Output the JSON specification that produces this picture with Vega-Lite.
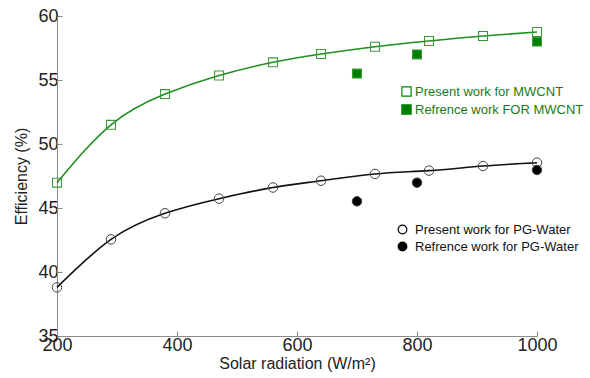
{
  "$schema": "https://vega.github.io/schema/vega-lite/v6.json",
  "width": 480,
  "height": 320,
  "autosize": {"type": "none"},
  "padding": {"left": 57, "top": 16, "right": 53, "bottom": 42},
  "background": "white",
  "config": {
    "view": {"stroke": null},
    "font": "Liberation Sans",
    "axis": {
      "grid": false,
      "domainColor": "#8a8a8a",
      "tickColor": "#8a8a8a",
      "tickSize": -5,
      "labelFontSize": 18,
      "labelColor": "#222",
      "titleFontSize": 16,
      "titleFontWeight": "normal",
      "titleColor": "#222"
    },
    "legend": {"labelFontSize": 13, "labelFont": "Liberation Sans", "labelLimit": 300}
  },
  "data": {
    "values": [
      {"group": "MWCNT", "kind": "present", "series": "Present work for MWCNT", "x": 200, "y": 46.98},
      {"group": "MWCNT", "kind": "present", "series": "Present work for MWCNT", "x": 290, "y": 51.5},
      {"group": "MWCNT", "kind": "present", "series": "Present work for MWCNT", "x": 380, "y": 53.9},
      {"group": "MWCNT", "kind": "present", "series": "Present work for MWCNT", "x": 470, "y": 55.35},
      {"group": "MWCNT", "kind": "present", "series": "Present work for MWCNT", "x": 560, "y": 56.38},
      {"group": "MWCNT", "kind": "present", "series": "Present work for MWCNT", "x": 640, "y": 57.03},
      {"group": "MWCNT", "kind": "present", "series": "Present work for MWCNT", "x": 730, "y": 57.6},
      {"group": "MWCNT", "kind": "present", "series": "Present work for MWCNT", "x": 820, "y": 58.05},
      {"group": "MWCNT", "kind": "present", "series": "Present work for MWCNT", "x": 910, "y": 58.44},
      {"group": "MWCNT", "kind": "present", "series": "Present work for MWCNT", "x": 1000, "y": 58.75},
      {"group": "MWCNT", "kind": "reference", "series": "Refrence work FOR MWCNT", "x": 700, "y": 55.5},
      {"group": "MWCNT", "kind": "reference", "series": "Refrence work FOR MWCNT", "x": 800, "y": 57.0},
      {"group": "MWCNT", "kind": "reference", "series": "Refrence work FOR MWCNT", "x": 1000, "y": 58.0},
      {"group": "PG", "kind": "present", "series": "Present work for PG-Water", "x": 200, "y": 38.8},
      {"group": "PG", "kind": "present", "series": "Present work for PG-Water", "x": 290, "y": 42.55},
      {"group": "PG", "kind": "present", "series": "Present work for PG-Water", "x": 380, "y": 44.59},
      {"group": "PG", "kind": "present", "series": "Present work for PG-Water", "x": 470, "y": 45.73},
      {"group": "PG", "kind": "present", "series": "Present work for PG-Water", "x": 560, "y": 46.6},
      {"group": "PG", "kind": "present", "series": "Present work for PG-Water", "x": 640, "y": 47.13},
      {"group": "PG", "kind": "present", "series": "Present work for PG-Water", "x": 730, "y": 47.66},
      {"group": "PG", "kind": "present", "series": "Present work for PG-Water", "x": 820, "y": 47.92},
      {"group": "PG", "kind": "present", "series": "Present work for PG-Water", "x": 910, "y": 48.28},
      {"group": "PG", "kind": "present", "series": "Present work for PG-Water", "x": 1000, "y": 48.54},
      {"group": "PG", "kind": "reference", "series": "Refrence work for PG-Water", "x": 700, "y": 45.52},
      {"group": "PG", "kind": "reference", "series": "Refrence work for PG-Water", "x": 800, "y": 46.98},
      {"group": "PG", "kind": "reference", "series": "Refrence work for PG-Water", "x": 1000, "y": 47.97}
    ]
  },
  "encoding": {
    "x": {
      "field": "x", "type": "quantitative",
      "scale": {"domain": [200, 1000], "nice": false, "zero": false},
      "axis": {"values": [200, 400, 600, 800, 1000], "format": "d", "title": "Solar radiation (W/m²)", "labelPadding": 5, "titlePadding": 1, "labelFlush": false}
    },
    "y": {
      "field": "y", "type": "quantitative",
      "scale": {"domain": [35, 60], "nice": false, "zero": false},
      "axis": {"values": [35, 40, 45, 50, 55, 60], "title": "Efficiency (%)", "labelPadding": 4, "titlePadding": 8}
    }
  },
  "layer": [
    {
      "transform": [{"filter": "datum.group == 'MWCNT' && datum.kind == 'present'"}],
      "mark": {"type": "line", "interpolate": "natural", "color": "#1f8f1f", "strokeWidth": 1.6}
    },
    {
      "transform": [{"filter": "datum.group == 'PG' && datum.kind == 'present'"}],
      "mark": {"type": "line", "interpolate": "natural", "color": "#111", "strokeWidth": 1.6}
    },
    {
      "transform": [{"filter": "datum.group == 'MWCNT'"}],
      "mark": {"type": "point", "shape": "square", "size": 80, "stroke": "#3a9a3a", "strokeWidth": 1.1, "opacity": 1},
      "encoding": {
        "fill": {
          "field": "series", "type": "nominal",
          "scale": {"domain": ["Present work for MWCNT", "Refrence work FOR MWCNT"], "range": ["transparent", "#008000"]},
          "legend": {"title": null, "orient": "none", "legendX": 343, "legendY": 69, "symbolType": "square", "symbolSize": 85, "symbolStrokeColor": "#008000", "symbolStrokeWidth": 1.2, "labelColor": "#1a7a1a", "rowPadding": 3, "labelOffset": 2}
        }
      }
    },
    {
      "transform": [{"filter": "datum.group == 'PG'"}],
      "mark": {"type": "point", "shape": "circle", "size": 90, "stroke": "#444", "strokeWidth": 1.0, "opacity": 1},
      "encoding": {
        "fill": {
          "field": "series", "type": "nominal",
          "scale": {"domain": ["Present work for PG-Water", "Refrence work for PG-Water"], "range": ["transparent", "#000"]},
          "legend": {"title": null, "orient": "none", "legendX": 339, "legendY": 207, "symbolType": "circle", "symbolSize": 75, "symbolStrokeColor": "#000", "symbolStrokeWidth": 1.2, "labelColor": "#111", "rowPadding": 2, "labelOffset": 6}
        }
      }
    }
  ],
  "resolve": {"scale": {"fill": "independent"}, "legend": {"fill": "independent"}}
}
